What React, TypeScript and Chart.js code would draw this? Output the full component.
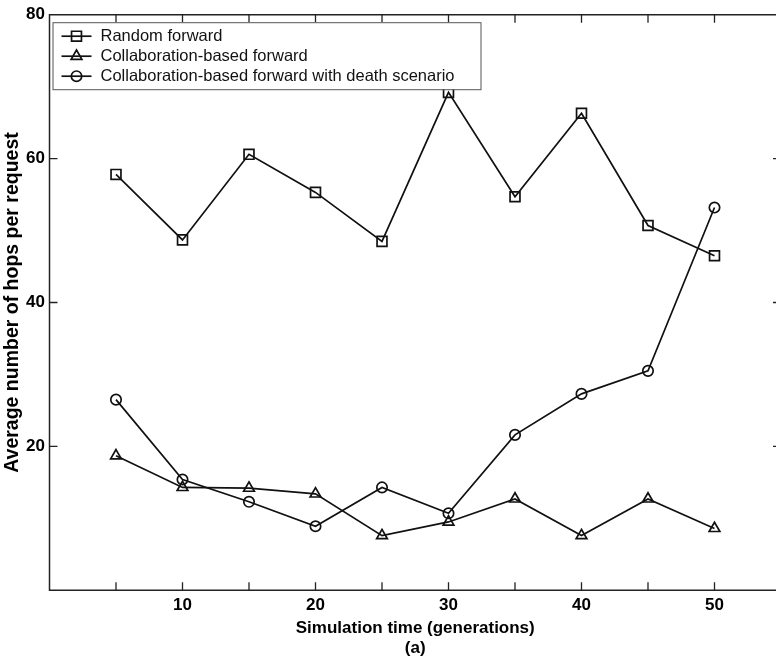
import React, { useEffect, useRef } from 'react';
import { Chart, registerables } from 'chart.js';

Chart.register(...registerables);

// ---- Data ----
const generations = [5, 10, 15, 20, 25, 30, 35, 40, 45, 50];
const randomForward = [57.8, 48.7, 60.6, 55.3, 48.5, 69.2, 54.7, 66.3, 50.7, 46.5];
const collabForward = [18.7, 14.3, 14.2, 13.4, 7.6, 9.5, 12.7, 7.6, 12.7, 8.6];
const collabDeath = [26.5, 15.4, 12.3, 8.9, 14.3, 10.7, 21.6, 27.3, 30.5, 53.2];
const seriesNames = [
  'Random forward',
  'Collaboration-based forward',
  'Collaboration-based forward with death scenario',
];
const seriesMarkers = ['rect', 'triangle', 'circle'];
const xLabeledTicks = [10, 20, 30, 40, 50];
const yLabeledTicks = [20, 40, 60, 80];
const xTitle = ['Simulation time (generations)', '(a)'];
const yTitle = 'Average number of hops per request';

const FONT = "'Liberation Sans', Arial, Helvetica, sans-serif";
const INK = '#111';

const markerRadius: Record<string, number> = { rect: 7, triangle: 6.2, circle: 5.2 };

function toPoints(ys: number[]) {
  return generations.map((x, i) => ({ x, y: ys[i] }));
}

function drawMarker(ctx: CanvasRenderingContext2D, style: string, r: number, x: number, y: number) {
  ctx.beginPath();
  if (style === 'rect') {
    const s = Math.SQRT1_2 * r;
    ctx.rect(x - s, y - s, 2 * s, 2 * s);
  } else if (style === 'triangle') {
    ctx.moveTo(x, y - r);
    ctx.lineTo(x + r * Math.sin((2 * Math.PI) / 3), y - r * Math.cos((2 * Math.PI) / 3));
    ctx.lineTo(x + r * Math.sin((4 * Math.PI) / 3), y - r * Math.cos((4 * Math.PI) / 3));
    ctx.closePath();
  } else {
    ctx.arc(x, y, r, 0, Math.PI * 2);
  }
  ctx.stroke();
}

const frameAndTicks = {
  id: 'frameAndTicks',
  beforeDatasetsDraw(chart: any) {
    const { ctx, chartArea } = chart;
    const { left, right, top, bottom } = chartArea;
    const xs = chart.scales.x;
    const ys = chart.scales.y;
    const TL = 8;
    ctx.save();
    ctx.strokeStyle = '#222';
    ctx.lineWidth = 1.5;
    ctx.beginPath();
    ctx.rect(left, top, right - left, bottom - top);
    ctx.stroke();
    ctx.lineWidth = 1.3;
    ctx.beginPath();
    xs.ticks.forEach((t: any) => {
      const px = xs.getPixelForValue(t.value);
      if (px <= left + 1 || px >= right - 1) return;
      ctx.moveTo(px, bottom);
      ctx.lineTo(px, bottom - TL);
      ctx.moveTo(px, top);
      ctx.lineTo(px, top + TL);
    });
    ys.ticks.forEach((t: any) => {
      const py = ys.getPixelForValue(t.value);
      if (py <= top + 1 || py >= bottom - 1) return;
      ctx.moveTo(left, py);
      ctx.lineTo(left + TL, py);
      ctx.moveTo(right, py);
      ctx.lineTo(right - TL, py);
    });
    ctx.stroke();
    ctx.restore();
  },
};

const boxLegend = {
  id: 'boxLegend',
  afterDatasetsDraw(chart: any) {
    const { ctx, chartArea } = chart;
    const bx = chartArea.left + 3;
    const by = chartArea.top + 7.5;
    const bw = 428;
    const bh = 67;
    ctx.save();
    ctx.fillStyle = '#fff';
    ctx.fillRect(bx, by, bw, bh);
    ctx.strokeStyle = '#555';
    ctx.lineWidth = 1;
    ctx.strokeRect(bx + 0.5, by + 0.5, bw, bh);
    ctx.font = `16.5px ${FONT}`;
    ctx.textBaseline = 'middle';
    ctx.textAlign = 'left';
    chart.data.datasets.forEach((ds: any, i: number) => {
      const cy = by + 14 + i * 20;
      ctx.strokeStyle = INK;
      ctx.lineWidth = 1.7;
      ctx.beginPath();
      ctx.moveTo(bx + 9, cy);
      ctx.lineTo(bx + 39, cy);
      ctx.stroke();
      drawMarker(ctx, ds.pointStyle, ds.pointRadius, bx + 24, cy);
      ctx.fillStyle = INK;
      ctx.fillText(ds.label, bx + 48, cy + 0.5);
    });
    ctx.restore();
  },
};

export default function App() {
  const canvasRef = useRef<HTMLCanvasElement | null>(null);

  useEffect(() => {
    const canvas = canvasRef.current;
    if (!canvas) return;
    const seriesValues = [randomForward, collabForward, collabDeath];
    const chart = new Chart(canvas, {
      type: 'line',
      data: {
        datasets: seriesValues.map((vals, i) => ({
          label: seriesNames[i],
          data: toPoints(vals),
          borderColor: INK,
          borderWidth: 1.7,
          pointStyle: seriesMarkers[i] as any,
          pointRadius: markerRadius[seriesMarkers[i]],
          pointBorderWidth: 1.7,
          pointBorderColor: INK,
          pointBackgroundColor: 'rgba(0,0,0,0)',
          tension: 0,
          fill: false,
        })),
      },
      options: {
        responsive: false,
        animation: false,
        devicePixelRatio: 1,
        layout: { padding: { top: 12.5, right: 19, left: 0, bottom: 0 } },
        plugins: {
          legend: { display: false },
          tooltip: { enabled: false },
        },
        scales: {
          x: {
            type: 'linear',
            min: 0,
            max: 55,
            grid: { display: false, drawTicks: false },
            border: { display: false },
            ticks: {
              stepSize: 5,
              autoSkip: false,
              maxRotation: 0,
              padding: 4.5,
              color: '#000',
              font: { family: FONT, size: 17, weight: 'bold' },
              callback: (v: any) => (xLabeledTicks.includes(Number(v)) ? String(v) : ''),
            },
            title: {
              display: true,
              text: xTitle,
              color: '#000',
              font: { family: FONT, size: 17, weight: 'bold', lineHeight: 20 / 17 },
              padding: { top: 0, bottom: 3 },
            },
            afterFit: (s: any) => {
              s.height = 70.7;
            },
          },
          y: {
            type: 'linear',
            min: 0,
            max: 80,
            grid: { display: false, drawTicks: false },
            border: { display: false },
            ticks: {
              stepSize: 20,
              padding: 4.5,
              color: '#000',
              font: { family: FONT, size: 17, weight: 'bold' },
              callback: (v: any) => (yLabeledTicks.includes(Number(v)) ? String(v) : ''),
            },
            title: {
              display: true,
              text: yTitle,
              color: '#000',
              font: { family: FONT, size: 19.5, weight: 'bold', lineHeight: 1.2 },
              padding: { top: 1.3, bottom: 0 },
            },
            afterFit: (s: any) => {
              s.width = 49.5;
            },
          },
        },
      },
      plugins: [frameAndTicks, boxLegend],
    });
    return () => chart.destroy();
  }, []);

  return (
    <div
      style={{
        position: 'fixed',
        left: 0,
        top: 0,
        width: 776,
        height: 661,
        overflow: 'hidden',
        background: '#fff',
      }}
    >
      <canvas ref={canvasRef} width={800} height={661} style={{ width: 800, height: 661, display: 'block' }} />
    </div>
  );
}
